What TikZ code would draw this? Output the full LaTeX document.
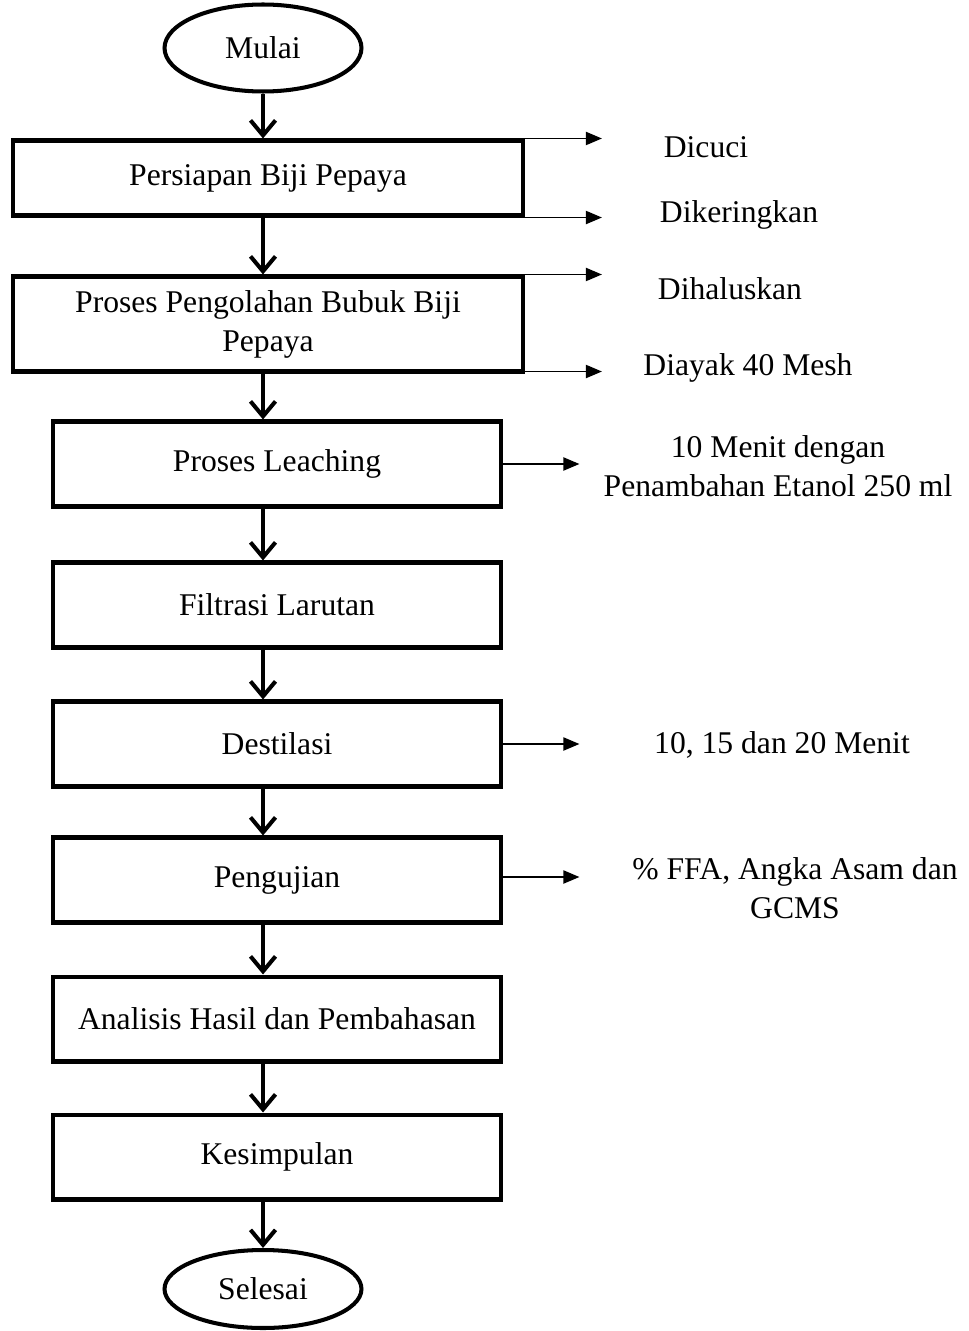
\documentclass[tikz,border=0pt]{standalone}
\usepackage{fontspec}
\setmainfont{Liberation Serif}
\usepackage{tikz}
\usetikzlibrary{positioning,shapes.geometric,arrows.meta}

\tikzset{
  terminal/.style={ellipse, draw, line width=2.3pt, minimum width=3.94cm, inner sep=0pt},
  stepbox/.style={rectangle, draw, line width=2.3pt, minimum width=8.98cm, minimum height=1.7cm, align=center, inner sep=2pt},
  flow/.style={line width=2.3pt, -{Straight Barb[length=0.3cm,width=0.5cm,line width=2.3pt]}},
  side/.style={line width=1.1pt, -{Triangle[length=0.32cm,width=0.26cm]}},
  note/.style={align=center, inner sep=0pt}
}

\begin{document}
\begin{tikzpicture}[x=0.02cm, y=-0.02cm, font=\fontsize{18}{22.2}\selectfont]

\useasboundingbox (0,0) rectangle (968,1331);

% Start

\node[terminal, minimum height=1.74cm] (Mulai) at (263,48) {Mulai};

% Steps

\node[stepbox, minimum width=10.2cm, minimum height=1.5cm] (BoxPersiapan)  at (268,178) {Persiapan Biji Pepaya};
\node[stepbox, minimum width=10.2cm, minimum height=1.9cm] (BoxPengolahan) at (268,324) {Proses Pengolahan Bubuk Biji\\Pepaya};
\node[stepbox] (BoxLeaching)   at (277,464)  {Proses Leaching};
\node[stepbox] (BoxFiltrasi)   at (277,605)  {Filtrasi Larutan};
\node[stepbox] (BoxDestilasi)  at (277,744)  {Destilasi};
\node[stepbox] (BoxPengujian)  at (277,880)  {Pengujian};
\node[stepbox] (BoxAnalisis)   at (277,1019) {Analisis Hasil dan Pembahasan};
\node[stepbox] (BoxKesimpulan) at (277,1157) {Kesimpulan};

% End

\node[terminal, minimum height=1.56cm] (Selesai) at (263,1289) {Selesai};

% Notes on the right

\node[note] (NoteDicuci)     at (706,147) {Dicuci};
\node[note] (NoteKering)     at (739,215) {Dikeringkan};
\node[note] (NoteHalus)      at (730,289) {Dihaluskan};
\node[note] (NoteAyak)       at (748,368) {Diayak 40 Mesh};
\node[note] (NoteLeaching)   at (778,466) {10 Menit dengan\\Penambahan Etanol 250 ml};
\node[note] (NoteDestilasi)  at (782,745) {10, 15 dan 20 Menit};
\node[note] (NotePengujian)  at (795,888) {\% FFA, Angka Asam dan\\GCMS};

\coordinate (ExtPersiapan0)  at ([xshift=1.54cm]BoxPersiapan.north east);
\coordinate (ExtPersiapan1)  at ([xshift=1.54cm]BoxPersiapan.south east);
\coordinate (ExtPengolahan0) at ([xshift=1.54cm]BoxPengolahan.north east);
\coordinate (ExtPengolahan1) at ([xshift=1.54cm, yshift=0.04cm]BoxPengolahan.south east);
\coordinate (ExtLeaching)    at ([xshift=1.52cm]BoxLeaching.east);
\coordinate (ExtDestilasi)   at ([xshift=1.52cm]BoxDestilasi.east);
\coordinate (ExtPengujian)   at ([xshift=1.52cm, yshift=0.06cm]BoxPengujian.east);

% Main flow...

\draw[flow] (Mulai.south) -- (BoxPersiapan.north -| Mulai.south);
\draw[flow] (BoxPersiapan.south -| Mulai.south) -- (BoxPengolahan.north -| Mulai.south);
\draw[flow] (BoxPengolahan.south -| Mulai.south) -- (BoxLeaching.north -| Mulai.south);
\draw[flow] (BoxLeaching.south -| Mulai.south) -- (BoxFiltrasi.north -| Mulai.south);
\draw[flow] (BoxFiltrasi.south -| Mulai.south) -- (BoxDestilasi.north -| Mulai.south);
\draw[flow] (BoxDestilasi.south -| Mulai.south) -- (BoxPengujian.north -| Mulai.south);
\draw[flow] (BoxPengujian.south -| Mulai.south) -- (BoxAnalisis.north -| Mulai.south);
\draw[flow] (BoxAnalisis.south -| Mulai.south) -- (BoxKesimpulan.north -| Mulai.south);
\draw[flow] (BoxKesimpulan.south -| Mulai.south) -- (Selesai.north);

% Side arrows...

\draw[side] (BoxPersiapan.north east |- ExtPersiapan0) -- (ExtPersiapan0);
\draw[side] (BoxPersiapan.south east |- ExtPersiapan1) -- (ExtPersiapan1);
\draw[side] (BoxPengolahan.north east |- ExtPengolahan0) -- (ExtPengolahan0);
\draw[side] (BoxPengolahan.south east |- ExtPengolahan1) -- (ExtPengolahan1);
\draw[side] (BoxLeaching.east) -- (ExtLeaching);
\draw[side] (BoxDestilasi.east) -- (ExtDestilasi);
\draw[side] (BoxPengujian.east |- ExtPengujian) -- (ExtPengujian);

\end{tikzpicture}
\end{document}
